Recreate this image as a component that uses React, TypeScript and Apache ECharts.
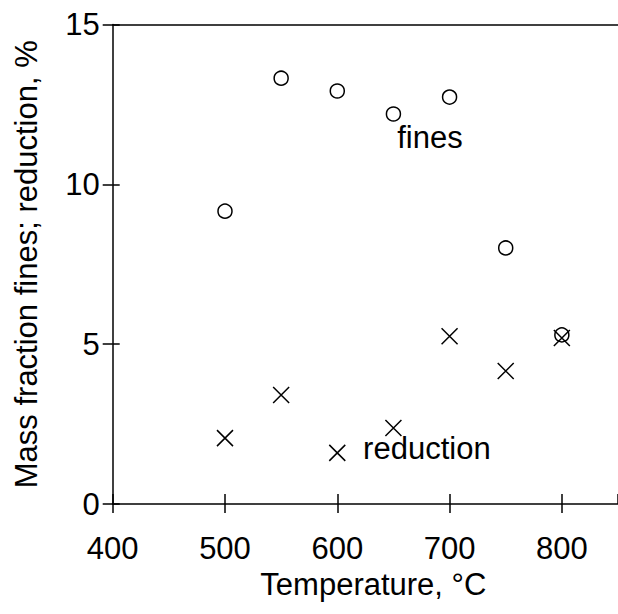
import React, { useEffect, useRef } from "react";
import * as echarts from "echarts";

const temperatures = [500, 550, 600, 650, 700, 750, 800];
const finesValues = [9.16, 13.32, 12.92, 12.2, 12.73, 8.01, 5.29];
const reductionValues = [2.06, 3.41, 1.6, 2.38, 5.25, 4.16, 5.19];
const xRange = [400, 850];
const xStep = 100;
const yRange = [0, 15];
const yStep = 5;
const annotations = [
  { text: "fines", at: [653.4, 11.45] },
  { text: "reduction", at: [623, 1.75] },
];

const FONT = "'Liberation Sans', Arial, Helvetica, sans-serif";
const FS = 31;
const BLACK = "#000";

export default function App() {
  const ref = useRef<HTMLDivElement>(null);
  useEffect(() => {
    if (!ref.current) return;
    const chart = echarts.init(ref.current, undefined, { renderer: "svg" });
    const axisLine = { show: true, onZero: false, lineStyle: { color: BLACK, width: 1.5 } };
    const tickStyle = { color: BLACK, width: 1.5 };
    const grid = { left: 112.7, top: 24.5, width: 507, height: 479.5 };
    chart.setOption({
      animation: false,
      backgroundColor: "#fff",
      textStyle: { fontFamily: FONT, color: BLACK },
      grid,
      xAxis: [
        {
          type: "value",
          min: xRange[0],
          max: xRange[1],
          interval: xStep,
          position: "bottom",
          axisLine,
          axisTick: { show: true, length: 9, lineStyle: tickStyle },
          axisLabel: {
            fontSize: FS,
            color: BLACK,
            fontFamily: FONT,
            margin: 29,
            showMaxLabel: false,
          },
          splitLine: { show: false },
          name: "Temperature, °C",
          nameLocation: "middle",
          nameGap: 63,
          nameTextStyle: { fontSize: FS, color: BLACK, fontFamily: FONT, padding: [0, 0, 0, 16] },
        },
        {
          type: "value",
          min: xRange[0],
          max: xRange[1],
          interval: xStep,
          position: "bottom",
          axisLine: { show: false },
          axisTick: { show: true, inside: true, length: 10, lineStyle: tickStyle },
          axisLabel: { show: false },
          splitLine: { show: false },
        },
        {
          type: "value",
          min: xRange[0],
          max: xRange[1],
          position: "top",
          axisLine,
          axisTick: { show: false },
          axisLabel: { show: false },
          splitLine: { show: false },
        },
      ],
      yAxis: [
        {
          type: "value",
          min: yRange[0],
          max: yRange[1],
          interval: yStep,
          position: "left",
          axisLine,
          axisTick: { show: true, length: 10, lineStyle: tickStyle },
          axisLabel: { fontSize: FS, color: BLACK, fontFamily: FONT, margin: 13 },
          splitLine: { show: false },
          name: "Mass fraction fines; reduction, %",
          nameLocation: "middle",
          nameGap: 71,
          nameTextStyle: { fontSize: FS, color: BLACK, fontFamily: FONT },
        },
        {
          type: "value",
          min: yRange[0],
          max: yRange[1],
          interval: yStep,
          position: "left",
          axisLine: { show: false },
          axisTick: { show: true, inside: true, length: 7, lineStyle: tickStyle },
          axisLabel: { show: false },
          splitLine: { show: false },
        },
      ],
      series: [
        {
          name: "fines",
          type: "scatter",
          xAxisIndex: 0,
          yAxisIndex: 0,
          symbol: "circle",
          symbolSize: 14,
          itemStyle: { color: "#fff", borderColor: BLACK, borderWidth: 1.5, opacity: 1 },
          data: temperatures.map((t, i) => [t, finesValues[i]]),
        },
        {
          name: "reduction",
          type: "scatter",
          xAxisIndex: 0,
          yAxisIndex: 0,
          symbol: "path://M0,0L10,10M10,0L0,10",
          symbolSize: 16,
          itemStyle: { color: "none", borderColor: BLACK, borderWidth: 1.5, opacity: 1 },
          data: temperatures.map((t, i) => [t, reductionValues[i]]),
        },
      ],
    });
    const graphic = annotations.map((a) => {
      const p = chart.convertToPixel({ xAxisIndex: 0, yAxisIndex: 0 }, a.at) as number[];
      return {
        type: "text",
        x: p[0],
        y: p[1],
        style: {
          text: a.text,
          fontSize: FS,
          fontFamily: FONT,
          fill: BLACK,
          textAlign: "left",
          textVerticalAlign: "middle",
        },
      };
    });
    chart.setOption({ graphic });
    return () => chart.dispose();
  }, []);
  return (
    <div
      ref={ref}
      style={{ position: "fixed", left: 0, top: 0, width: 618, height: 614, background: "#fff" }}
    />
  );
}
